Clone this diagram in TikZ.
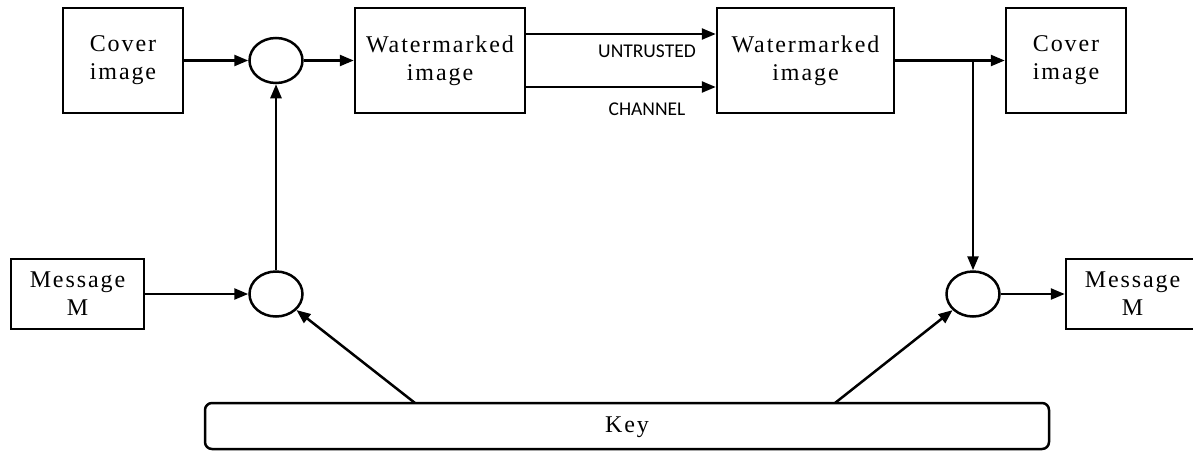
\documentclass[tikz,border=0pt]{standalone}
\usepackage{fontspec}
\setmainfont{Liberation Serif}
\newfontfamily\labfont{Liberation Serif}[LetterSpace=8]
\newfontfamily\chanfont{Carlito}
\usetikzlibrary{arrows.meta,shapes.geometric,calc}
\begin{document}
\begin{tikzpicture}[x=1pt,y=-1pt,
  line width=2.5pt,
  box/.style={draw,rectangle,inner sep=0pt,align=center,font=\labfont\fontsize{24}{28}\selectfont},
  blob/.style={draw,ellipse,inner sep=0pt,minimum width=53pt,minimum height=45pt},
  arr/.style={-{Triangle[length=14pt,width=11pt]}},
  chlab/.style={inner sep=0pt,font=\chanfont\fontsize{19.5}{22}\selectfont}]
\path[use as bounding box,clip] (0,0) rectangle (1193,450);
% boxes
\node[box,minimum width=120pt,minimum height=105pt] (cov1) at (123,60.5) {Cover\\image};
\node[blob] (c1) at (276,60.5) {};
\node[box,minimum width=170pt,minimum height=105pt] (wm1) at (440,60.5) {Watermarked\\image};
\node[box,minimum width=177pt,minimum height=105pt] (wm2) at (805.5,60.5) {Watermarked\\image};
\node[box,minimum width=120pt,minimum height=105pt] (cov2) at (1066,60.5) {Cover\\image};
\node[box,minimum width=133pt,minimum height=70pt] (msg1) at (77.5,294) {Message\\M};
\node[blob] (c2) at (276,294) {};
\node[blob] (c3) at (973,294) {};
\node[box,minimum width=133pt,minimum height=70pt] (msg2) at (1132.5,294) {Message\\M};
\node[box,rounded corners=7pt,minimum width=844pt,minimum height=46pt] (key) at (627,426) {};
\node[inner sep=0pt,font=\labfont\fontsize{24}{28}\selectfont] (keylab) at (627,427) {Key};
% channel labels
\node[chlab] (untr) at (647,51) {UNTRUSTED};
\node[chlab] (chan) at (647,109) {CHANNEL};
% connectors
\draw[arr] (cov1.east) -- (c1.west);
\draw[arr] (c1.east) -- (wm1.west);
\draw[arr] ([yshift=26.5pt]wm1.east) -- ([yshift=26.5pt]wm2.west);
\draw[arr] ([yshift=-26.5pt]wm1.east) -- ([yshift=-26.5pt]wm2.west);
\draw[arr] (wm2.east) -- (cov2.west);
\coordinate (br) at (c3.center |- wm2.east);
\draw[arr] (br) -- (c3.north);
\draw[arr] (c2.north) -- (c1.south);
\draw[arr] (msg1.east) -- (c2.west);
\draw[arr] (c3.east) -- (msg2.west);
\coordinate (kl) at (415,403);
\coordinate (kr) at (835,403);
\draw[arr] (kl) -- (c2);
\draw[arr] (kr) -- (c3);
\end{tikzpicture}
\end{document}
